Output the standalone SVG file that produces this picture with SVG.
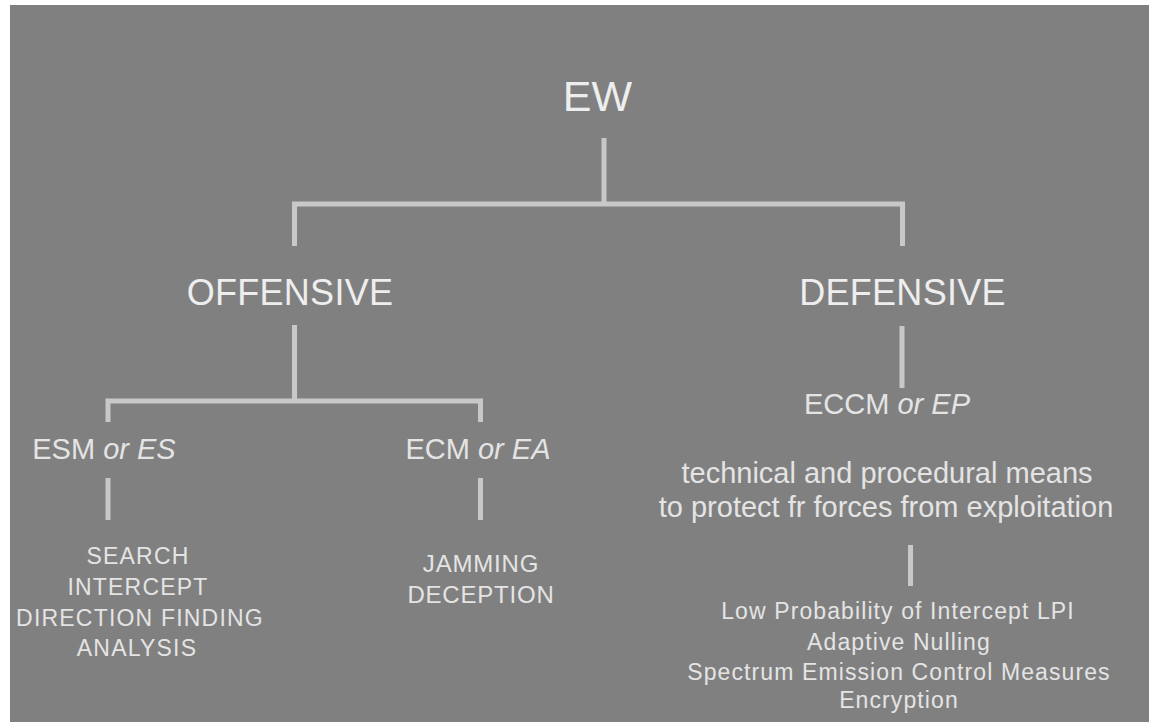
<svg xmlns="http://www.w3.org/2000/svg" width="1149" height="722" viewBox="0 0 1149 722">
  <style>
    text { font-family: "Liberation Sans", Arial, sans-serif; text-anchor: middle; }
    .t1 { fill: #eeeeee; font-size: 43px; }
    .t2 { fill: #eeeeee; font-size: 36px; letter-spacing: 0.3px; }
    .t3 { fill: #e4e4e4; font-size: 29px; }
    .t4 { fill: #e4e4e4; font-size: 23px; letter-spacing: 1.2px; }
    .t5 { fill: #e4e4e4; font-size: 24px; letter-spacing: 0.8px; }
    .t6 { fill: #e4e4e4; font-size: 29px; }
    .t7 { fill: #e4e4e4; font-size: 23px; letter-spacing: 1.1px; }
    .it { font-style: italic; }
    .ln { fill: none; stroke: #c8c8c8; stroke-width: 5; stroke-linecap: butt; stroke-linejoin: miter; }
  </style>

  <rect x="0" y="0" width="1149" height="722" fill="#ffffff"/>
  <rect x="10" y="5" width="1139" height="717" fill="#808080"/>

  <g id="connectors">
    <line class="ln" x1="604" y1="138" x2="604" y2="204"/>
    <path class="ln" d="M294.5 246 V204 H902.5 V246"/>
    <line class="ln" x1="294.5" y1="325" x2="294.5" y2="401"/>
    <path class="ln" d="M108 422 V401 H480.5 V422"/>
    <line class="ln" x1="108" y1="478" x2="108" y2="520"/>
    <line class="ln" x1="480.5" y1="478" x2="480.5" y2="520"/>
    <line class="ln" x1="902" y1="326" x2="902" y2="388"/>
    <line class="ln" x1="910.5" y1="545" x2="910.5" y2="586"/>
  </g>

  <g id="ew">
    <text class="t1" x="597.5" y="111">EW</text>
  </g>

  <g id="offensive">
    <text class="t2" x="290" y="305">OFFENSIVE</text>
  </g>

  <g id="defensive">
    <text class="t2" x="902.5" y="305">DEFENSIVE</text>
  </g>

  <g id="esm">
    <text class="t3" x="104" y="459">ESM <tspan class="it">or ES</tspan></text>
  </g>

  <g id="esm-tasks">
    <text class="t4" x="138" y="564">SEARCH</text>
    <text class="t4" x="138" y="595">INTERCEPT</text>
    <text class="t4" x="140" y="626">DIRECTION FINDING</text>
    <text class="t4" x="137" y="656">ANALYSIS</text>
  </g>

  <g id="ecm">
    <text class="t3" x="478" y="459">ECM <tspan class="it">or EA</tspan></text>
  </g>

  <g id="ecm-tasks">
    <text class="t5" x="481" y="572">JAMMING</text>
    <text class="t5" x="481" y="603">DECEPTION</text>
  </g>

  <g id="eccm">
    <text class="t3" x="887" y="414">ECCM <tspan class="it">or EP</tspan></text>
  </g>

  <g id="eccm-definition">
    <text class="t6" x="887" y="483">technical and procedural means</text>
    <text class="t6" x="886" y="517">to protect fr forces from exploitation</text>
  </g>

  <g id="eccm-tasks">
    <text class="t7" x="898" y="619">Low Probability of Intercept LPI</text>
    <text class="t7" x="899" y="650">Adaptive Nulling</text>
    <text class="t7" x="899" y="680">Spectrum Emission Control Measures</text>
    <text class="t7" x="899" y="708">Encryption</text>
  </g>
</svg>
